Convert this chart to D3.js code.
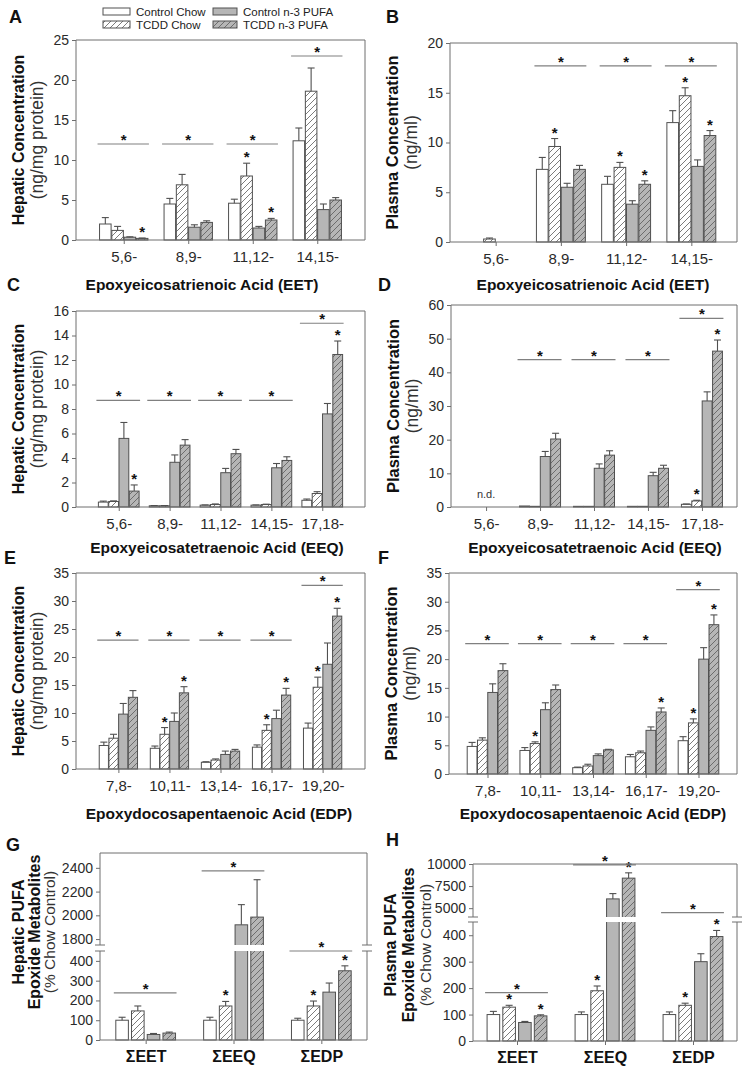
<!DOCTYPE html>
<html>
<head>
<meta charset="utf-8">
<script src="https://cdn.jsdelivr.net/npm/d3@7"></script>
<style>
  body { margin: 0; background: #fff; }
  svg text { font-family: "Liberation Sans", Arial, sans-serif; }
</style>
</head>
<body>
<svg id="fig" width="755" height="1085"></svg>
<script>
// ---- data (rows: Control Chow, TCDD Chow, Control n-3 PUFA, TCDD n-3 PUFA) ----
const seriesNames = ["Control Chow", "TCDD Chow", "Control n-3 PUFA", "TCDD n-3 PUFA"];

const eetCats = ["5,6-", "8,9-", "11,12-", "14,15-"];
const eeqCats = ["5,6-", "8,9-", "11,12-", "14,15-", "17,18-"];
const edpCats = ["7,8-", "10,11-", "13,14-", "16,17-", "19,20-"];
const sumCats = ["ΣEET", "ΣEEQ", "ΣEDP"];

// A - hepatic EET
const hepEetMean = [[2.0, 4.5, 4.6, 12.4], [1.2, 6.9, 8.0, 18.6], [0.35, 1.6, 1.5, 3.8], [0.2, 2.2, 2.5, 5.0]];
const hepEetSem  = [[0.8, 0.7, 0.5, 1.6], [0.5, 1.3, 1.6, 2.9], [0.05, 0.3, 0.2, 0.7], [0.05, 0.2, 0.2, 0.3]];
const hepEetBrk  = [12, 12, 12, 23];
const hepEetStar = [[0, 3], [2, 1], [2, 3]];

// B - plasma EET
const plEetMean = [[null, 7.3, 5.8, 12.0], [0.3, 9.6, 7.5, 14.7], [null, 5.5, 3.8, 7.6], [null, 7.3, 5.8, 10.7]];
const plEetSem  = [[0, 1.2, 0.8, 1.2], [0.1, 0.8, 0.5, 0.8], [0, 0.4, 0.35, 0.65], [0, 0.4, 0.35, 0.5]];
const plEetBrk  = [null, 17.7, 17.7, 17.7];
const plEetStar = [[1, 1], [2, 1], [2, 3], [3, 1], [3, 3]];

// C - hepatic EEQ
const hepEeqMean = [[0.4, 0.1, 0.15, 0.15, 0.55], [0.45, 0.1, 0.2, 0.2, 1.1], [5.6, 3.65, 2.8, 3.2, 7.6], [1.3, 5.05, 4.35, 3.8, 12.45]];
const hepEeqSem  = [[0.08, 0.02, 0.02, 0.02, 0.1], [0.05, 0.02, 0.05, 0.03, 0.15], [1.3, 0.6, 0.35, 0.35, 0.85], [0.5, 0.45, 0.35, 0.3, 1.1]];
const hepEeqBrk  = [8.7, 8.7, 8.7, 8.7, 15.0];
const hepEeqStar = [[0, 3], [4, 3]];

// D - plasma EEQ
const plEeqMean = [[null, 0.3, 0.2, 0.2, 0.8], [null, 0.2, 0.2, 0.2, 1.8], [null, 15.0, 11.5, 9.3, 31.5], [null, 20.2, 15.4, 11.5, 46.3]];
const plEeqSem  = [[0, 0, 0, 0, 0.1], [0, 0, 0, 0, 0.2], [0, 1.5, 1.3, 1.0, 2.7], [0, 1.7, 1.3, 0.9, 3.3]];
const plEeqBrk  = [null, 43.8, 43.8, 43.8, 56];
const plEeqStar = [[4, 1], [4, 3]];

// E - hepatic EDP
const hepEdpMean = [[4.2, 3.7, 1.2, 3.9, 7.3], [5.5, 6.2, 1.6, 6.9, 14.6], [9.8, 8.5, 2.6, 9.0, 18.7], [12.8, 13.6, 3.2, 13.2, 27.3]];
const hepEdpSem  = [[0.6, 0.4, 0.1, 0.4, 0.9], [0.7, 1.2, 0.2, 1.0, 1.8], [1.9, 1.5, 0.6, 1.5, 3.8], [1.2, 1.1, 0.3, 1.2, 1.4]];
const hepEdpBrk  = [23, 23, 23, 23, 32.8];
const hepEdpStar = [[1, 1], [1, 3], [3, 1], [3, 3], [4, 1], [4, 3]];

// F - plasma EDP
const plEdpMean = [[4.8, 4.1, 1.1, 3.0, 5.8], [5.9, 5.3, 1.4, 3.7, 8.9], [14.2, 11.2, 3.2, 7.6, 20.0], [18.0, 14.7, 4.2, 10.8, 26.0]];
const plEdpSem  = [[0.7, 0.5, 0.1, 0.4, 0.7], [0.4, 0.3, 0.3, 0.3, 0.7], [1.5, 1.2, 0.3, 0.6, 2.0], [1.2, 0.8, 0.1, 0.7, 1.7]];
const plEdpBrk  = [22.7, 22.7, 22.7, 22.7, 32.1];
const plEdpStar = [[1, 1], [3, 3], [4, 1], [4, 3]];

// G - hepatic sums (% chow control)
const hepSumMean = [[100, 100, 100], [147, 172, 172], [28, 1920, 242], [35, 1985, 350]];
const hepSumSem  = [[15, 15, 10], [25, 23, 25], [5, 170, 46], [5, 315, 25]];
const hepSumBrk  = [238, 2375, 450];
const hepSumStar = [[1, 1], [2, 1], [2, 3]];

// H - plasma sums (% chow control)
const plSumMean = [[100, 100, 100], [128, 190, 135], [70, 6050, 300], [95, 8400, 395]];
const plSumSem  = [[12, 10, 10], [7, 18, 8], [4, 600, 30], [4, 600, 23]];
const plSumBrk  = [183, 9900, 4500];
const plSumStar = [[0, 1], [0, 3], [1, 1], [1, 3], [2, 1], [2, 3]];

// ---- drawing ----
const svg = d3.select('#fig');
const defs = svg.append('defs');
const EDGE = '#505050';
const AXIS = '#6e6e6e';
const GRAY = '#b6b6b6';

function hatch(id, bg) {
  const p = defs.append('pattern').attr('id', id)
    .attr('patternUnits', 'userSpaceOnUse').attr('width', 6).attr('height', 6);
  p.append('rect').attr('width', 6).attr('height', 6).attr('fill', bg);
  p.append('path').attr('d', 'M-1,1 L1,-1 M0,6 L6,0 M5,7 L7,5')
    .attr('stroke', '#5a5a5a').attr('stroke-width', 0.8);
}
hatch('hW', '#fff');
hatch('hG', GRAY);
const fills = ['#fff', 'url(#hW)', GRAY, 'url(#hG)'];

function star(g, x, yb) {
  g.append('text').attr('x', x).attr('y', yb).attr('text-anchor', 'middle')
    .attr('font-size', 15).attr('font-weight', 'bold').attr('fill', '#111').text('*');
}

function drawPanel(c) {
  const g = svg.append('g');
  const y = d3.scaleLinear().domain(c.yDom).range(c.yRng);
  const x = d3.scalePoint().domain(c.cats).range([c.left, c.right]).padding(c.pad);
  const gw = x.step() * c.gf;
  const sub = d3.scaleBand().domain(d3.range(4)).range([-gw / 2, gw / 2]).paddingInner(c.inner);
  const bw = sub.bandwidth();
  const bot = c.yRng[0], top = c.top;
  const broken = c.yDom.length > 2;

  // bars + error bars
  c.mean.forEach((row, s) => row.forEach((v, i) => {
    if (v == null) return;
    const bx = x(c.cats[i]) + sub(s);
    g.append('rect').attr('x', bx).attr('y', y(v)).attr('width', bw).attr('height', bot - y(v))
      .attr('fill', fills[s]).attr('stroke', EDGE).attr('stroke-width', 1);
    const e = c.sem[s][i];
    if (e) {
      const cx = bx + bw / 2;
      g.append('line').attr('x1', cx).attr('x2', cx).attr('y1', y(v)).attr('y2', y(v + e))
        .attr('stroke', EDGE).attr('stroke-width', 1.1);
      g.append('line').attr('x1', cx - 3.5).attr('x2', cx + 3.5).attr('y1', y(v + e)).attr('y2', y(v + e))
        .attr('stroke', EDGE).attr('stroke-width', 1.1);
    }
  }));

  if (broken) {
    g.append('rect').attr('x', c.left + 1).attr('width', c.right - c.left - 2)
      .attr('y', c.yRng[2]).attr('height', c.yRng[1] - c.yRng[2]).attr('fill', '#fff');
  }

  // stars above bars
  c.stars.forEach(([i, s]) => {
    const cx = x(c.cats[i]) + sub(s) + bw / 2;
    star(g, cx, y(c.mean[s][i] + c.sem[s][i]) - 1);
  });

  // significance lines
  c.brk.forEach((lv, i) => {
    if (lv == null) return;
    const cx = x(c.cats[i]);
    g.append('line').attr('x1', cx - gw / 2 - 2).attr('x2', cx + gw / 2 + 1)
      .attr('y1', y(lv)).attr('y2', y(lv)).attr('stroke', '#808080').attr('stroke-width', 1.2);
    star(g, cx, y(lv) + 1);
  });

  // frame
  const fr = g.append('g').attr('stroke', AXIS).attr('stroke-width', 1).attr('fill', 'none');
  fr.append('line').attr('x1', c.left).attr('x2', c.right).attr('y1', bot).attr('y2', bot);
  fr.append('line').attr('x1', c.left).attr('x2', c.right).attr('y1', top).attr('y2', top);
  [c.left, c.right].forEach(xx => {
    if (broken) {
      fr.append('line').attr('x1', xx).attr('x2', xx).attr('y1', bot).attr('y2', c.yRng[1]);
      fr.append('line').attr('x1', xx).attr('x2', xx).attr('y1', c.yRng[2]).attr('y2', top);
      [c.yRng[1], c.yRng[2]].forEach(yy => fr.append('line')
        .attr('x1', xx - 5).attr('x2', xx + 5).attr('y1', yy).attr('y2', yy));
    } else {
      fr.append('line').attr('x1', xx).attr('x2', xx).attr('y1', bot).attr('y2', top);
    }
  });

  // axes
  const ya = g.append('g').attr('transform', `translate(${c.left},0)`)
    .call(d3.axisLeft(y).tickValues(c.ticks).tickSize(4).tickPadding(3).tickFormat(d3.format('d')));
  ya.select('.domain').remove();
  ya.selectAll('line').attr('stroke', AXIS);
  ya.selectAll('text').attr('font-size', 14).attr('fill', '#2a2a2a')
    .style('font-family', '"Liberation Sans", Arial, sans-serif');

  const xa = g.append('g').attr('transform', `translate(0,${bot})`)
    .call(d3.axisBottom(x).tickSize(4).tickPadding(7));
  xa.select('.domain').remove();
  xa.selectAll('line').attr('stroke', AXIS);
  xa.selectAll('text').attr('font-size', c.xBold ? 16 : 15).attr('font-weight', c.xBold ? 'bold' : 'normal')
    .attr('fill', c.xBold ? '#111' : '#2a2a2a')
    .style('font-family', '"Liberation Sans", Arial, sans-serif');

  // y labels
  const cy = c.labelY != null ? c.labelY : (bot + top) / 2;
  c.ylab.forEach(([txt, dx, bold, fs]) => {
    g.append('text').attr('transform', `translate(${c.left - dx},${cy}) rotate(-90)`)
      .attr('text-anchor', 'middle').attr('dy', '0.35em')
      .attr('font-size', fs).attr('font-weight', bold ? 'bold' : 'normal')
      .attr('fill', bold ? '#111' : '#333').text(txt);
  });

  if (c.nd) {
    g.append('text').attr('x', x(c.cats[0])).attr('y', bot - 9).attr('text-anchor', 'middle')
      .attr('font-size', 11).attr('fill', '#333').text('n.d.');
  }

  // panel letter
  g.append('text').attr('x', c.letter[1]).attr('y', c.letter[2])
    .attr('font-size', 18).attr('font-weight', 'bold').attr('fill', '#111').text(c.letter[0]);

  // section title under panel
  if (c.title) {
    g.append('text').attr('x', c.title[1]).attr('y', c.title[2]).attr('text-anchor', 'middle')
      .attr('font-size', 15.5).attr('font-weight', 'bold').attr('fill', '#111').text(c.title[0]);
  }
}

const hepLab = [["Hepatic Concentration", 58, true, 16], ["(ng/mg protein)", 39, false, 17.5]];
const plLab = [["Plasma Concentration", 58, true, 16.5], ["(ng/ml)", 39, false, 17.5]];

drawPanel({ cats: eetCats, mean: hepEetMean, sem: hepEetSem, brk: hepEetBrk, stars: hepEetStar,
  left: 76, right: 365, top: 40, yDom: [0, 25], yRng: [240, 40], ticks: d3.range(0, 26, 5),
  pad: 0.74, gf: 0.75, inner: 0.06, ylab: hepLab, letter: ['A', 9, 23],
  title: ['Epoxyeicosatrienoic Acid (EET)', 202, 290] });

drawPanel({ cats: eetCats, mean: plEetMean, sem: plEetSem, brk: plEetBrk, stars: plEetStar,
  left: 450, right: 737, top: 43, yDom: [0, 20], yRng: [242, 43], ticks: d3.range(0, 21, 5),
  pad: 0.7, gf: 0.75, inner: 0.06, ylab: plLab, letter: ['B', 386, 23],
  title: ['Epoxyeicosatrienoic Acid (EET)', 593, 290] });

drawPanel({ cats: eeqCats, mean: hepEeqMean, sem: hepEeqSem, brk: hepEeqBrk, stars: hepEeqStar,
  left: 76, right: 365, top: 311, yDom: [0, 16], yRng: [507, 311], ticks: d3.range(0, 17, 2),
  pad: 0.84, gf: 0.8, inner: 0.05, ylab: hepLab, letter: ['C', 7, 291],
  title: ['Epoxyeicosatetraenoic Acid (EEQ)', 217, 553] });

drawPanel({ cats: eeqCats, mean: plEeqMean, sem: plEeqSem, brk: plEeqBrk, stars: plEeqStar,
  left: 451, right: 737, top: 305, yDom: [0, 60], yRng: [507, 305], ticks: d3.range(0, 61, 10),
  pad: 0.65, gf: 0.76, inner: 0.05, ylab: plLab, letter: ['D', 378, 291], nd: true,
  title: ['Epoxyeicosatetraenoic Acid (EEQ)', 595, 553] });

drawPanel({ cats: edpCats, mean: hepEdpMean, sem: hepEdpSem, brk: hepEdpBrk, stars: hepEdpStar,
  left: 76, right: 365, top: 573, yDom: [0, 35], yRng: [769, 573], ticks: d3.range(0, 36, 5),
  pad: 0.83, gf: 0.75, inner: 0.05, ylab: hepLab, letter: ['E', 4, 564],
  title: ['Epoxydocosapentaenoic Acid (EDP)', 219, 819] });

drawPanel({ cats: edpCats, mean: plEdpMean, sem: plEdpSem, brk: plEdpBrk, stars: plEdpStar,
  left: 449, right: 737, top: 573, yDom: [0, 35], yRng: [774, 573], ticks: d3.range(0, 36, 5),
  pad: 0.73, gf: 0.77, inner: 0.05, ylab: plLab, letter: ['F', 378, 564],
  title: ['Epoxydocosapentaenoic Acid (EDP)', 593, 819] });

drawPanel({ cats: sumCats, mean: hepSumMean, sem: hepSumSem, brk: hepSumBrk, stars: hepSumStar,
  left: 100, right: 367, top: 853, yDom: [0, 450, 1750, 2525], yRng: [1040, 951, 945, 853],
  ticks: [0, 100, 200, 300, 400, 1800, 2000, 2200, 2400],
  pad: 0.52, gf: 0.68, inner: 0.2, xBold: true, labelY: 932, letter: ['G', 6, 851],
  ylab: [["Hepatic PUFA", 82, true, 16], ["Epoxide Metabolites", 66, true, 16], ["(% Chow Control)", 50, false, 15.5]] });

drawPanel({ cats: sumCats, mean: plSumMean, sem: plSumSem, brk: plSumBrk, stars: plSumStar,
  left: 473, right: 737, top: 864, yDom: [0, 450, 4000, 10000], yRng: [1041, 922, 917, 864],
  ticks: [0, 100, 200, 300, 400, 5000, 7500, 10000],
  pad: 0.5, gf: 0.68, inner: 0.2, xBold: true, labelY: 945, letter: ['H', 386, 846],
  ylab: [["Plasma PUFA", 83, true, 16], ["Epoxide Metabolites", 65, true, 16], ["(% Chow Control)", 47, false, 15.5]] });

// legend
const leg = svg.append('g');
const legPos = [[103, 8], [103, 21], [213, 8], [213, 21]];
seriesNames.forEach((n, i) => {
  const [lx, ly] = legPos[i];
  leg.append('rect').attr('x', lx).attr('y', ly).attr('width', i < 2 ? 27 : 24).attr('height', 7)
    .attr('fill', fills[i]).attr('stroke', EDGE).attr('stroke-width', 1);
  leg.append('text').attr('x', lx + (i < 2 ? 33 : 30)).attr('y', ly + 7.5)
    .attr('font-size', 11.5).attr('fill', '#222').text(n);
});
</script>
</body>
</html>
